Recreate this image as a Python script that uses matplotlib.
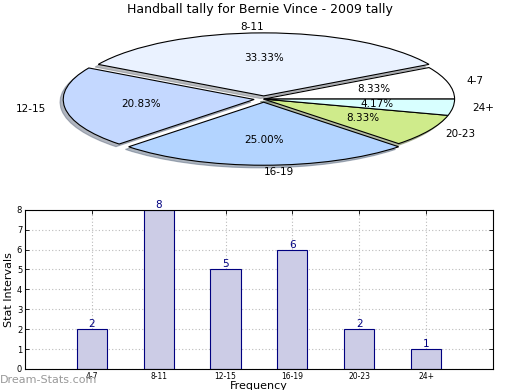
import numpy as np
import matplotlib
matplotlib.use('Agg')
import matplotlib.pyplot as plt

# tally data
intervals = ['4-7', '8-11', '12-15', '16-19', '20-23', '24+']
counts = [2, 8, 5, 6, 2, 1]
sliceColors = ['#ffffff', '#eaf2ff', '#c4d8ff', '#b3d4ff', '#cfeb8b', '#d8ffff']
explode = [0, 0.05, 0.05, 0.05, 0, 0]

fig = plt.figure(figsize=(5.2, 3.9), dpi=100)

#Pie chart on top, squashed like the old style.
axPie = fig.add_axes([0.048, 0.544, 0.918, 0.404])
wedges, texts, autotexts = axPie.pie(counts, labels=intervals, colors=sliceColors,
                                     explode=explode, autopct='%1.2f%%',
                                     shadow={'ox': -0.012, 'oy': -0.03, 'shade': 0.5},
                                     startangle=0, labeldistance=1.1, pctdistance=0.6,
                                     wedgeprops={'edgecolor': 'black', 'linewidth': 0.8},
                                     textprops={'fontsize': 7.5})
axPie.set_aspect('auto')
axPie.set_xlim(-1.25, 1.25)
axPie.set_ylim(-1.25, 1.25)
axPie.axis('off')
fig.text(0.5, 0.975, 'Handball tally for Bernie Vince - 2009 tally', ha='center', va='center', fontsize=9)

#Bar chart below.
axBar = fig.add_axes([0.048, 0.054, 0.9, 0.408])
pos = np.arange(len(intervals))
axBar.bar(pos, counts, width=0.45, color='#ccccE6', edgecolor='navy', linewidth=0.8, zorder=2)
for p, c in zip(pos, counts):
    axBar.text(p, c, str(c), ha='center', va='bottom', color='navy', fontsize=7.5)
axBar.set_xlim(-1, 6)
axBar.set_ylim(0, 8)
axBar.set_xticks(pos)
axBar.set_xticklabels(intervals, fontsize=5.5)
axBar.set_yticks(range(9))
axBar.tick_params(axis='y', labelsize=6)
axBar.tick_params(direction='in', top=True, right=True, length=3, width=0.6, pad=2)
axBar.grid(True, linestyle=(0, (1, 2)), color='#bbbbbb', linewidth=0.8, zorder=0)
axBar.set_ylabel('Stat Intervals', fontsize=8, labelpad=2)
axBar.set_xlabel('Frequency', fontsize=8, labelpad=0)

fig.text(0.0, 0.025, 'Dream-Stats.com', color='#999999', fontsize=8, ha='left', va='center')

fig.savefig('out.png', dpi=100)
